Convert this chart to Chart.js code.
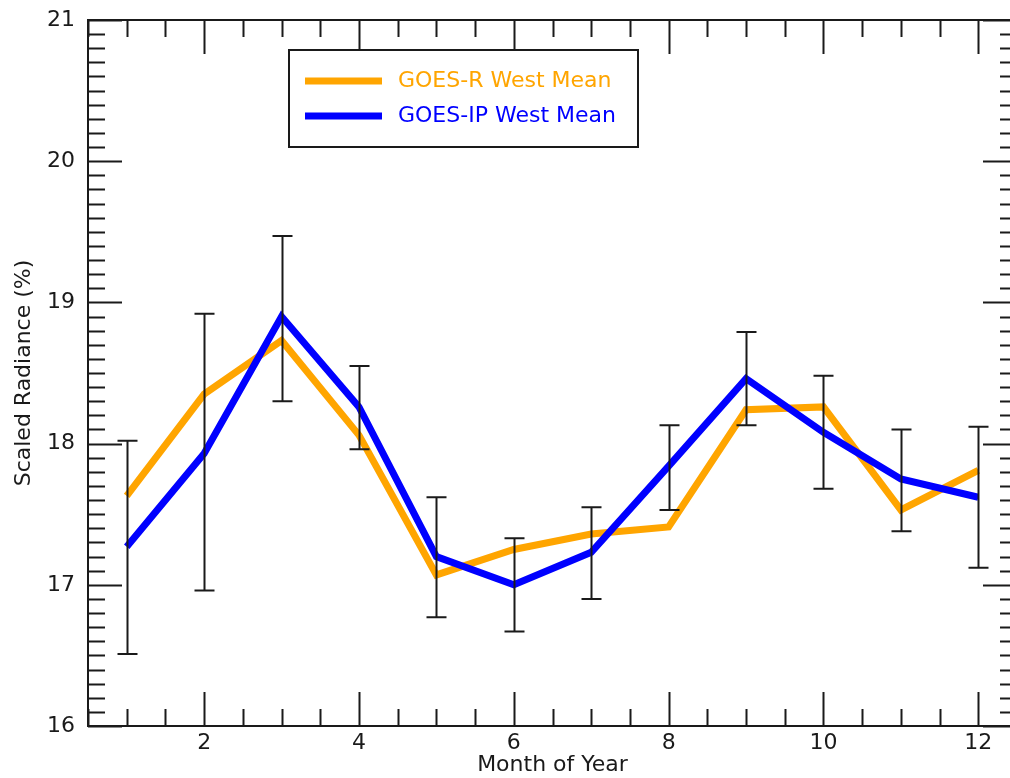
<!DOCTYPE html>
<html>
<head>
<meta charset="utf-8">
<script src="https://cdn.jsdelivr.net/npm/chart.js@4.4.0/dist/chart.umd.min.js"></script>
<style>
  html, body { margin: 0; padding: 0; background: #fff; overflow: hidden; width: 1010px; height: 778px; }
  #wrap { width: 1040px; height: 778px; }
  canvas { display: block; }
</style>
</head>
<body>
<div id="wrap"><canvas id="c" width="1040" height="778"></canvas></div>
<script>
// Monthly mean scaled radiance for the two West imagers, with error-bar ranges
const months = [1, 2, 3, 4, 5, 6, 7, 8, 9, 10, 11, 12];
const goesRMean  = [17.63, 18.35, 18.73, 18.06, 17.07, 17.25, 17.36, 17.41, 18.24, 18.26, 17.53, 17.81];
const goesIPMean = [17.27, 17.93, 18.90, 18.26, 17.20, 17.00, 17.23, 17.84, 18.46, 18.08, 17.75, 17.62];
const errLow  = [16.51, 16.96, 18.30, 17.96, 16.77, 16.67, 16.90, 17.53, 18.13, 17.68, 17.38, 17.12];
const errHigh = [18.02, 18.92, 19.47, 18.55, 17.62, 17.33, 17.55, 18.13, 18.79, 18.48, 18.10, 18.12];
const xTickLabels = [2, 4, 6, 8, 10, 12];
const yTickLabels = [16, 17, 18, 19, 20, 21];

const FONT = "'DejaVu Sans', sans-serif";
const INK = '#1a1a1a';

// Box frame with inward major/minor ticks on all four sides
const frameTicks = {
  id: 'frameTicks',
  afterDraw(chart, args, opts) {
    const { ctx, chartArea: a, scales: { x, y } } = chart;
    ctx.save();
    ctx.strokeStyle = INK;
    ctx.lineWidth = 2;
    ctx.lineCap = 'butt';
    ctx.strokeRect(a.left, a.top, a.right - a.left, a.bottom - a.top);
    ctx.beginPath();
    // x ticks every 0.5, longer at labelled months
    for (let k = Math.round(x.min * 2); k <= Math.round(x.max * 2); k++) {
      const v = k / 2;
      const len = xTickLabels.includes(v) ? opts.major : opts.minor;
      const px = Math.round(x.getPixelForValue(v)) + 0.5;
      ctx.moveTo(px, a.bottom); ctx.lineTo(px, a.bottom - len);
      ctx.moveTo(px, a.top); ctx.lineTo(px, a.top + len);
    }
    // y ticks every 0.1, longer at whole units
    for (let k = Math.round(y.min * 10); k <= Math.round(y.max * 10); k++) {
      const v = k / 10;
      const len = (k % 10 === 0) ? opts.major : opts.minor;
      const py = Math.round(y.getPixelForValue(v)) + 0.5;
      ctx.moveTo(a.left, py); ctx.lineTo(a.left + len, py);
      ctx.moveTo(a.right, py); ctx.lineTo(a.right - len, py);
    }
    ctx.stroke();
    ctx.restore();
  }
};

// Vertical error bars with caps at each month
const errorBars = {
  id: 'errorBars',
  afterDatasetsDraw(chart, args, opts) {
    const { ctx, scales: { x, y } } = chart;
    ctx.save();
    ctx.strokeStyle = INK;
    ctx.lineWidth = 2;
    ctx.beginPath();
    months.forEach((m, i) => {
      const px = Math.round(x.getPixelForValue(m)) + 0.5;
      const y0 = y.getPixelForValue(errLow[i]);
      const y1 = y.getPixelForValue(errHigh[i]);
      ctx.moveTo(px, y0); ctx.lineTo(px, y1);
      ctx.moveTo(px - opts.cap, y0); ctx.lineTo(px + opts.cap, y0);
      ctx.moveTo(px - opts.cap, y1); ctx.lineTo(px + opts.cap, y1);
    });
    ctx.stroke();
    ctx.restore();
  }
};

// Framed legend box inside the plot area
const boxLegend = {
  id: 'boxLegend',
  afterDraw(chart, args, opts) {
    const { ctx } = chart;
    ctx.save();
    ctx.fillStyle = '#fff';
    ctx.fillRect(opts.left, opts.top, opts.width, opts.height);
    ctx.strokeStyle = INK;
    ctx.lineWidth = 2;
    ctx.strokeRect(opts.left, opts.top, opts.width, opts.height);
    ctx.font = `22px ${FONT}`;
    ctx.textBaseline = 'middle';
    ctx.textAlign = 'left';
    chart.data.datasets.forEach((ds, i) => {
      const yy = opts.top + opts.firstRow + i * opts.rowGap;
      ctx.strokeStyle = ds.borderColor;
      ctx.lineWidth = ds.borderWidth;
      ctx.beginPath();
      ctx.moveTo(opts.left + opts.lineStart, yy);
      ctx.lineTo(opts.left + opts.lineStart + opts.lineLen, yy);
      ctx.stroke();
      ctx.fillStyle = ds.borderColor;
      ctx.fillText(ds.label, opts.left + opts.textStart, yy);
    });
    ctx.restore();
  }
};

const toPoints = vals => months.map((m, i) => ({ x: m, y: vals[i] }));

new Chart(document.getElementById('c'), {
  type: 'line',
  data: {
    datasets: [
      {
        label: 'GOES-R West Mean',
        data: toPoints(goesRMean),
        borderColor: '#FFA500',
        borderWidth: 7,
        pointRadius: 0,
        tension: 0,
        fill: false,
        borderJoinStyle: 'miter',
        borderCapStyle: 'butt',
        order: 2
      },
      {
        label: 'GOES-IP West Mean',
        data: toPoints(goesIPMean),
        borderColor: '#0000FF',
        borderWidth: 7,
        pointRadius: 0,
        tension: 0,
        fill: false,
        borderJoinStyle: 'miter',
        borderCapStyle: 'butt',
        order: 1
      }
    ]
  },
  options: {
    responsive: false,
    animation: false,
    devicePixelRatio: 1,
    layout: { padding: { top: 20, right: 23, bottom: 0, left: 0 } },
    scales: {
      x: {
        type: 'linear',
        min: 0.5,
        max: 12.5,
        afterBuildTicks: s => { s.ticks = xTickLabels.map(v => ({ value: v })); },
        afterFit: s => { s.height = 52; s.paddingLeft = 0; s.paddingRight = 0; },
        grid: { display: false, drawTicks: false },
        border: { display: false },
        ticks: { color: INK, font: { family: FONT, size: 22 }, padding: 4, maxRotation: 0, autoSkip: false },
        title: { display: true, text: 'Month of Year', color: INK, font: { family: FONT, size: 22 }, padding: 0 }
      },
      y: {
        type: 'linear',
        min: 16,
        max: 21,
        afterBuildTicks: s => { s.ticks = yTickLabels.map(v => ({ value: v })); },
        afterFit: s => { s.width = 88; s.paddingTop = 0; s.paddingBottom = 0; },
        grid: { display: false, drawTicks: false },
        border: { display: false },
        ticks: { color: INK, font: { family: FONT, size: 22 }, padding: 13 },
        title: { display: true, text: 'Scaled Radiance (%)', color: INK, font: { family: FONT, size: 22 }, padding: { top: 11, bottom: 0 } }
      }
    },
    plugins: {
      legend: { display: false },
      tooltip: { enabled: false },
      frameTicks: { major: 34, minor: 17 },
      errorBars: { cap: 10 },
      boxLegend: { left: 289, top: 50, width: 349, height: 97, lineStart: 16, lineLen: 77, textStart: 109, firstRow: 31, rowGap: 35 }
    }
  },
  plugins: [frameTicks, errorBars, boxLegend]
});
</script>
</body>
</html>
